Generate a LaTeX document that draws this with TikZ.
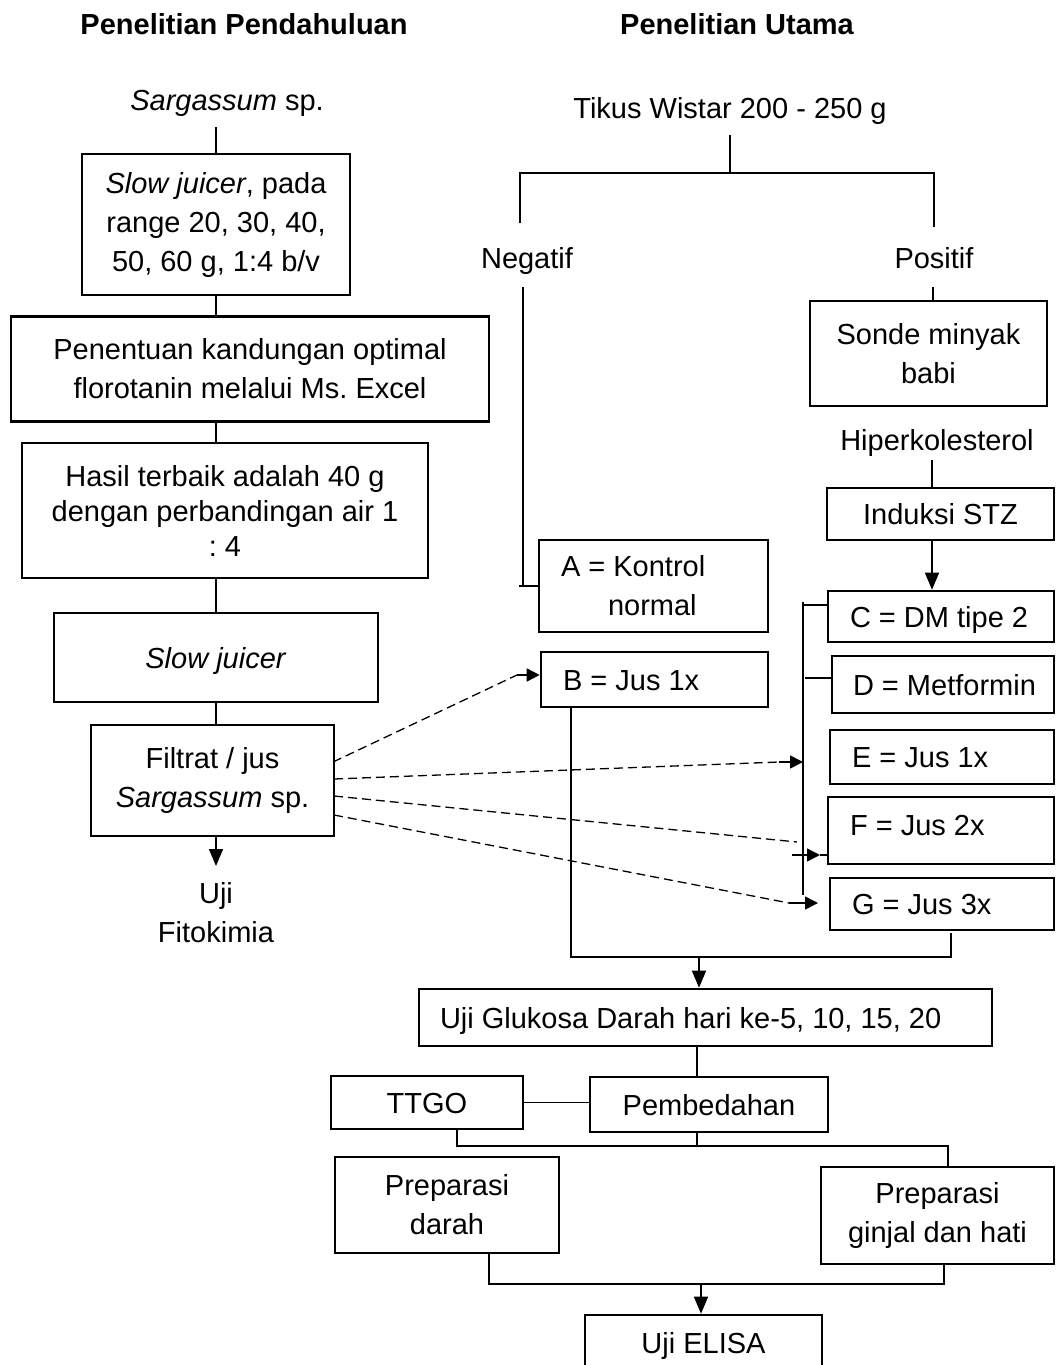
\documentclass[tikz,border=0pt]{standalone}
\usepackage{fontspec}
\setmainfont{Liberation Sans}
\usetikzlibrary{arrows.meta,calc}
\frenchspacing
\begin{document}
\begin{tikzpicture}[x=1pt,y=-1pt,
  every node/.style={font=\fontsize{29}{39}\selectfont, inner sep=0pt},
  box/.style={draw, line width=2.6pt, rectangle, align=center},
  txt/.style={align=center},
  one/.style={text height=21pt, text depth=0pt},
  ttl/.style={font=\fontsize{29}{39}\selectfont\bfseries, text height=21pt, text depth=0pt},
  conn/.style={line width=1.5pt},
  thin/.style={line width=1.2pt},
  dsh/.style={line width=1.3pt, dash pattern=on 9pt off 5pt},
  arr/.style={line width=1.5pt, -{Triangle[length=17pt,width=14pt]}},
  sarr/.style={line width=1.6pt, -{Triangle[length=13pt,width=13pt]}},
]
\useasboundingbox (0,0) rectangle (1055,1365);

% titles
\node[ttl] (t1) at (244,24) {Penelitian Pendahuluan};
\node[ttl] (t2) at (737,24) {Penelitian Utama};

% ---------- left column ----------
\node[one] (sarg) at (227,100) {\textit{Sargassum} sp.};
\node[box, minimum width=268, minimum height=141] (b1) at (216,224.5) {\textit{Slow juicer}, pada\\range 20, 30, 40,\\50, 60 g, 1:4 b/v};
\node[box, minimum width=478, minimum height=105] (b2) at (250,369) {Penentuan kandungan optimal\\florotanin melalui Ms. Excel};
\node[box, minimum width=406, minimum height=135, font=\fontsize{29}{35}\selectfont] (b3) at (225,510.5) {Hasil terbaik adalah 40 g\\dengan perbandingan air 1\\: 4};
\node[box, one, minimum width=324, minimum height=89] (b4) at (216,657.5) {\textit{Slow juicer}};
\node[box, minimum width=243, minimum height=111] (b5) at (212.5,780.5) {Filtrat / jus\\\textit{Sargassum} sp.};
\node[txt] (fito) at (216,913) {Uji\\Fitokimia};

\coordinate (s1) at (216,127);
\coordinate (fa) at (216,866);
\draw[conn] (s1) -- (b1.north);
\draw[conn] (b1.south) -- (b1.south |- b2.north);
\draw[conn] (b1.south |- b2.south) -- (b1.south |- b3.north);
\draw[conn] (b1.south |- b3.south) -- (b4.north);
\draw[conn] (b4.south) -- (b4.south |- b5.north);
\draw[arr] (b4.south |- b5.south) -- (fa);

% ---------- right column ----------
\node[one] (tikus) at (730,108) {Tikus Wistar 200 - 250 g};
\node[one] (neg) at (527,258) {Negatif};
\node[one] (pos) at (934,258) {Positif};
\coordinate (tk) at (730,135);
\coordinate (jn) at (730,173);
\coordinate (nl) at (520,223);
\coordinate (nr) at (934,227);
\draw[thin] (tk) -- (jn);
\draw[thin] (nl) -- (nl |- jn) -- (jn -| nr) -- (nr);

\node[box, minimum width=237, minimum height=105] (sonde) at (928.5,353.5) {Sonde minyak\\babi};
\node[one] (hiper) at (937,440) {Hiperkolesterol};
\node[box, one, minimum width=227, minimum height=52] (stz) at (940.5,514) {Induksi STZ};

\coordinate (pdn) at (933,287);
\coordinate (hd) at (932,460);
\draw[conn] (pdn) -- (pdn |- sonde.north);
\draw[conn] (hd) -- (hd |- stz.north);

\node[box, minimum width=229, minimum height=92, align=left] (A) at (653.5,586) {\makebox[185pt][l]{A = Kontrol}\\\makebox[185pt][l]{\hspace*{47pt}normal}};
\node[box, one, minimum width=227, minimum height=55] (B) at (654.5,679.5) {\makebox[183pt][l]{B = Jus 1x}};

\coordinate (nd) at (523,287);
\coordinate (nt) at (519,586);
\draw[thin] (nd) |- (A.west);
\draw[thin] (nt) -- (nd |- nt);

\node[box, one, minimum width=226, minimum height=51] (C) at (941,616.5) {\makebox[182pt][l]{C = DM tipe 2}};
\node[box, one, minimum width=222, minimum height=57] (D) at (943,684.5) {\makebox[180pt][l]{D = Metformin}};
\node[box, one, minimum width=224, minimum height=54] (E) at (942,757) {\makebox[180pt][l]{E = Jus 1x}};
\node[box, text height=21pt, text depth=11pt, minimum width=226, minimum height=67] (F) at (941,830.5) {\makebox[182pt][l]{F = Jus 2x}};
\node[box, one, minimum width=224, minimum height=52] (G) at (942,904) {\makebox[180pt][l]{G = Jus 3x}};

\draw[arr] (hd |- stz.south) -- (hd |- C.north);

% bracket
\coordinate (bt) at (803,602);
\coordinate (bb) at (803,895);
\coordinate (ct) at (803,605);
\coordinate (dt) at (805,678);
\draw[thin] (bt) -- (bb);
\draw[thin] (ct) -- (ct -| C.west);
\draw[thin] (dt) -- (dt -| D.west);

% dashed juice arrows
\coordinate (o1) at (333,762);
\coordinate (o2) at (334,779);
\coordinate (o3) at (334,796);
\coordinate (o4) at (334,815);
\coordinate (bs) at (517,675);
\coordinate (es) at (779,762);
\coordinate (fd) at (797,842);
\coordinate (fs) at (792,855);
\coordinate (fm) at (820,855);
\coordinate (gs) at (789,903);
\coordinate (gm) at (818,903);
\draw[dsh] (o1) -- (bs);
\draw[sarr] (bs) -- (bs -| B.west);
\draw[dsh] (o2) -- (es);
\draw[sarr] (es) -- (es -| bt);
\draw[dsh] (o3) -- (fd);
\draw[sarr] (fs) -- (fm);
\draw[thin] (fm) -- (fm -| F.west);
\draw[dsh] (o4) -- (gs);
\draw[sarr] (gs) -- (gm);

% collection to glucose test
\coordinate (bl) at (571,957);
\coordinate (gr) at (951,933);
\coordinate (ua) at (699,957);
\draw[thin] (B.south -| bl) -- (bl) -- (bl -| gr) -- (gr);

\node[box, one, minimum width=573, minimum height=57] (ug) at (705.5,1017.5) {\makebox[531pt][l]{Uji Glukosa Darah hari ke-5, 10, 15, 20}};
\draw[arr] (ua) -- (ua |- ug.north);

\node[box, one, minimum width=192, minimum height=53] (tt) at (427,1102.5) {TTGO};
\node[box, one, minimum width=238, minimum height=55] (pe) at (709,1104.5) {Pembedahan};
\coordinate (ux) at (697,1060);
\draw[thin] (ug.south -| ux) -- (pe.north -| ux);
\draw[thin] (tt.east) -- (tt.east -| pe.west);

\node[box, minimum width=224, minimum height=96] (prd) at (447,1205) {Preparasi\\darah};
\node[box, minimum width=233, minimum height=97] (pg) at (937.5,1215.5) {Preparasi\\ginjal dan hati};

\coordinate (h1) at (457,1146);
\coordinate (h2) at (948,1146);
\draw[thin] (tt.south -| h1) -- (h1) -- (h2) -- (h2 |- pg.north);
\draw[thin] (pe.south -| ux) -- (ux |- h1);

\node[box, one, minimum width=237, minimum height=56] (el) at (703.5,1343) {Uji ELISA};
\coordinate (k1) at (489,1284);
\coordinate (k2) at (944,1284);
\coordinate (ea) at (701,1284);
\draw[thin] (prd.south -| k1) -- (k1) -- (k2) -- (pg.south -| k2);
\draw[arr] (ea) -- (ea |- el.north);
\end{tikzpicture}
\end{document}
